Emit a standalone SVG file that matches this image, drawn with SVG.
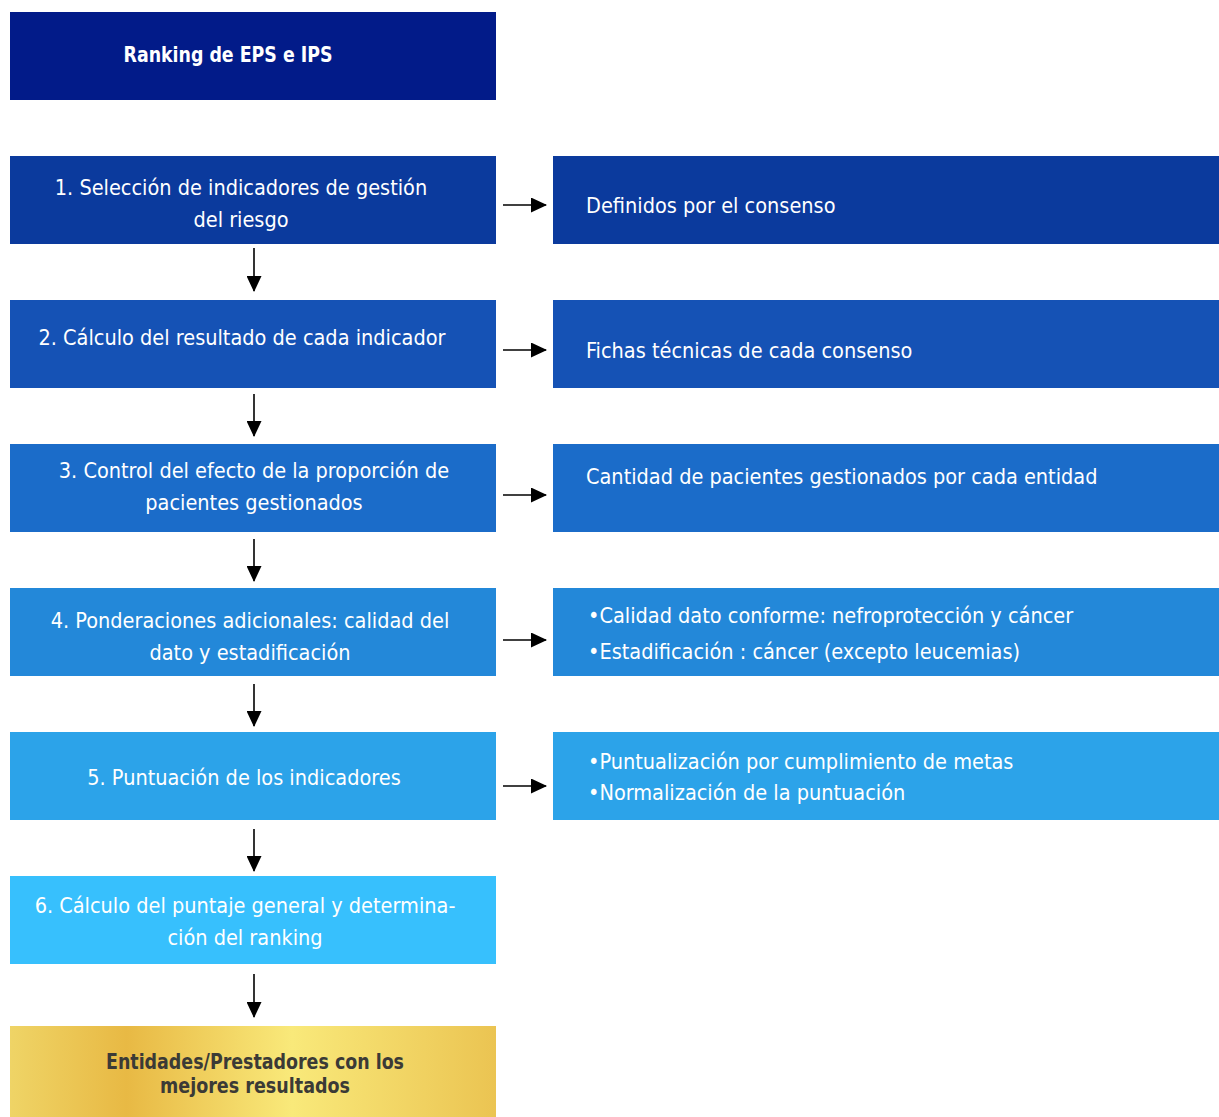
<svg xmlns="http://www.w3.org/2000/svg" width="1219" height="1117" viewBox="0 0 1219 1117">
<defs>
<style>
.t{font-family:"DejaVu Sans Condensed","DejaVu Sans","Liberation Sans",sans-serif;font-size:21.5px;fill:#fff}
.c{text-anchor:middle}
.b{font-weight:bold;font-size:21px}
.g{fill:#3b3a36}
.cn{stroke:#000;stroke-width:1.6;fill:none}
</style>
<marker id="ah" viewBox="0 0 16 15" refX="15" refY="7.5" markerWidth="16" markerHeight="15" markerUnits="userSpaceOnUse" orient="auto"><path d="M0,0 L16,7.5 L0,15 z" fill="#000"/></marker>
<linearGradient id="gold" x1="0" y1="0" x2="1" y2="0">
<stop offset="0" stop-color="#efd466"/>
<stop offset="0.24" stop-color="#e8b944"/>
<stop offset="0.58" stop-color="#f9e97a"/>
<stop offset="1" stop-color="#ebc452"/>
</linearGradient>
</defs>
<rect width="1219" height="1117" fill="#fff"/>
<g id="header"><rect x="10" y="12" width="486" height="88" fill="#021b89"/><text class="t c b" x="228" y="62" textLength="209" lengthAdjust="spacingAndGlyphs">Ranking de EPS e IPS</text></g>
<g id="s1"><rect x="10" y="156" width="486" height="88" fill="#0b3a9d"/><text class="t c" x="241" y="195">1. Selección de indicadores de gestión</text><text class="t c" x="241" y="227">del riesgo</text></g>
<g id="r1"><rect x="553" y="156" width="666" height="88" fill="#0b3a9d"/><text class="t" x="586" y="213">Definidos por el consenso</text></g>
<g id="s2"><rect x="10" y="300" width="486" height="88" fill="#1552b5"/><text class="t c" x="242" y="345">2. Cálculo del resultado de cada indicador</text></g>
<g id="r2"><rect x="553" y="300" width="666" height="88" fill="#1552b5"/><text class="t" x="586" y="358">Fichas técnicas de cada consenso</text></g>
<g id="s3"><rect x="10" y="444" width="486" height="88" fill="#1b6cc9"/><text class="t c" x="254" y="478">3. Control del efecto de la proporción de</text><text class="t c" x="254" y="510">pacientes gestionados</text></g>
<g id="r3"><rect x="553" y="444" width="666" height="88" fill="#1b6cc9"/><text class="t" x="586" y="484">Cantidad de pacientes gestionados por cada entidad</text></g>
<g id="s4"><rect x="10" y="588" width="486" height="88" fill="#2388d9"/><text class="t c" x="250" y="628">4. Ponderaciones adicionales: calidad del</text><text class="t c" x="250" y="660">dato y estadificación</text></g>
<g id="r4"><rect x="553" y="588" width="666" height="88" fill="#2388d9"/><text class="t" x="588" y="623">•Calidad dato conforme: nefroprotección y cáncer</text><text class="t" x="588" y="659">•Estadificación : cáncer (excepto leucemias)</text></g>
<g id="s5"><rect x="10" y="732" width="486" height="88" fill="#2ca3e9"/><text class="t c" x="244" y="785">5. Puntuación de los indicadores</text></g>
<g id="r5"><rect x="553" y="732" width="666" height="88" fill="#2ca3e9"/><text class="t" x="588" y="769">•Puntualización por cumplimiento de metas</text><text class="t" x="588" y="800">•Normalización de la puntuación</text></g>
<g id="s6"><rect x="10" y="876" width="486" height="88" fill="#37c0fd"/><text class="t c" x="245" y="913">6. Cálculo del puntaje general y determina-</text><text class="t c" x="245" y="945">ción del ranking</text></g>
<g id="result"><rect x="10" y="1026" width="486" height="91" fill="url(#gold)"/><text class="t c b g" x="255" y="1069" textLength="298" lengthAdjust="spacingAndGlyphs">Entidades/Prestadores con los</text><text class="t c b g" x="255" y="1093" textLength="190" lengthAdjust="spacingAndGlyphs">mejores resultados</text></g>
<g id="connectors">
<line class="cn" x1="503" y1="205" x2="546" y2="205" marker-end="url(#ah)"/>
<line class="cn" x1="503" y1="350" x2="546" y2="350" marker-end="url(#ah)"/>
<line class="cn" x1="503" y1="495" x2="546" y2="495" marker-end="url(#ah)"/>
<line class="cn" x1="503" y1="640" x2="546" y2="640" marker-end="url(#ah)"/>
<line class="cn" x1="503" y1="786" x2="546" y2="786" marker-end="url(#ah)"/>
<line class="cn" x1="254" y1="248" x2="254" y2="291" marker-end="url(#ah)"/>
<line class="cn" x1="254" y1="394" x2="254" y2="436" marker-end="url(#ah)"/>
<line class="cn" x1="254" y1="539" x2="254" y2="581" marker-end="url(#ah)"/>
<line class="cn" x1="254" y1="684" x2="254" y2="726" marker-end="url(#ah)"/>
<line class="cn" x1="254" y1="829" x2="254" y2="871" marker-end="url(#ah)"/>
<line class="cn" x1="254" y1="974" x2="254" y2="1017" marker-end="url(#ah)"/>
</g>
</svg>
